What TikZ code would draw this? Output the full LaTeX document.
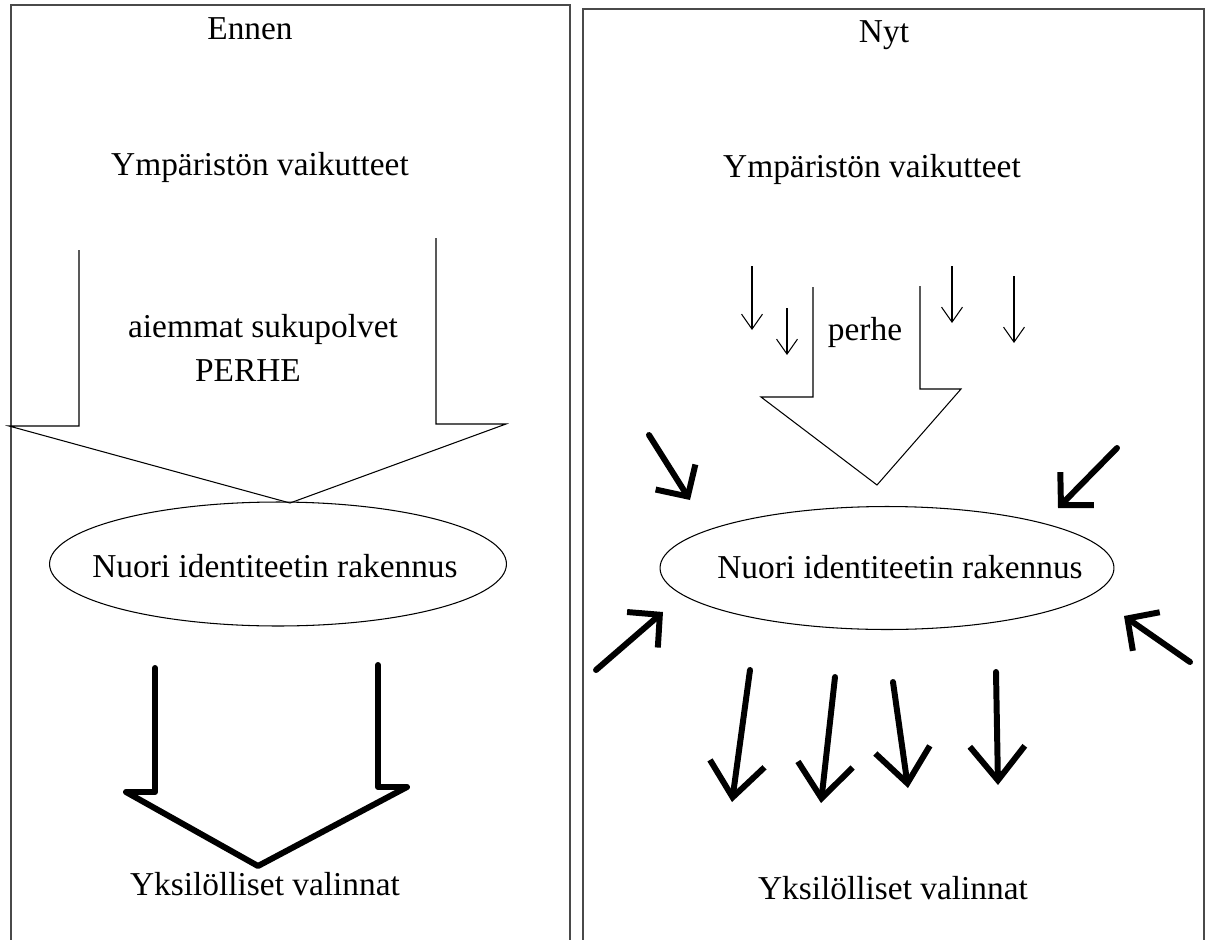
\documentclass[tikz,border=0pt]{standalone}
\usepackage{fontspec}
\setmainfont{Liberation Serif}
\usetikzlibrary{arrows.meta,shapes.geometric}
\definecolor{reunaHarmaa}{HTML}{4A4A4A}

\begin{document}
\begin{tikzpicture}[x=0.02cm,y=-0.02cm,
  teksti/.style={anchor=base,inner sep=0pt,font=\fontsize{19}{22}\selectfont},
  kupla/.style={draw,ellipse,line width=0.6pt,inner sep=0pt},
  ohut/.style={line width=0.6pt},
  paksu/.style={line width=3.4pt,line join=round,line cap=round},
  pieniNuoli/.style={-{Straight Barb[length=3mm,width=4.2mm]},line width=0.6pt},
  sisaanNuoli/.style={-{Straight Barb[length=4.6mm,width=9.4mm]},line width=3.4pt,line cap=round},
  alasNuoli/.style={-{Straight Barb[length=6.8mm,width=11mm]},line width=3.4pt,line cap=round},
  reuna/.style={draw=reunaHarmaa,line width=0.9pt}]
\useasboundingbox (0,0) rectangle (1214,940);
\clip (0,0) rectangle (1214,940);

% kaksi paneelia
\draw[reuna] (11,5) rectangle (570,990);
\draw[reuna] (583,9) rectangle (1204,990);

% --- Ennen ---
\node[teksti] (ennen) at (250,39) {Ennen};
\node[teksti] (ympA) at (260,175) {Ympäristön vaikutteet};
\node[teksti] (aiem) at (263,337) {aiemmat sukupolvet};
\node[teksti] (perheA) at (248,381) {PERHE};
\node[kupla,minimum width=9.14cm,minimum height=2.48cm] (nuoriA) at (278,564) {};
\node[teksti] (nuoriAt) at (275,577) {Nuori identiteetin rakennus};
\node[teksti] (yksA) at (265,895) {Yksilölliset valinnat};
\coordinate (karkiA) at (290,503);
\draw[ohut] (79,250) -- (79,426) -- (9,426) -- (karkiA) -- (506,424) -- (436,424) -- (436,238);
\draw[paksu] (155,668) -- (155,792) -- (126,792) -- (258,866) -- (407,787) -- (378,787) -- (378,665);

% --- Nyt ---
\node[teksti] (nyt) at (884,42) {Nyt};
\node[teksti] (ympB) at (872,177) {Ympäristön vaikutteet};
\node[teksti] (perheB) at (865,340) {perhe};
\foreach \x/\a/\b in {752/266/330, 787/308/355, 952/266/323, 1014/276/343}
  \draw[pieniNuoli] (\x,\a) -- (\x,\b);
\coordinate (karkiB) at (877,485);
\draw[ohut] (813,287) -- (813,397) -- (761,397) -- (karkiB) -- (961,389) -- (920,389) -- (920,286);
\node[kupla,minimum width=9.08cm,minimum height=2.46cm] (nuoriB) at (887,568) {};
\node[teksti] (nuoriBt) at (900,578) {Nuori identiteetin rakennus};
\node[teksti] (yksB) at (893,899) {Yksilölliset valinnat};

% vaikutteet joka suunnasta
\coordinate (vy) at (649,435);   \coordinate (vyk) at (690,500);
\coordinate (oy) at (1117,448);  \coordinate (oyk) at (1058,508);
\coordinate (va) at (596,670);   \coordinate (vak) at (663,612);
\coordinate (oa) at (1190,662);  \coordinate (oak) at (1124,616);
\draw[sisaanNuoli] (vy) -- (vyk);
\draw[sisaanNuoli] (oy) -- (oyk);
\draw[sisaanNuoli] (va) -- (vak);
\draw[sisaanNuoli] (oa) -- (oak);

% valinnat
\foreach \xa/\ya/\xb/\yb in {750/670/732/802, 835/677/821/803, 893/682/908/788, 996/672/998/785}
  \draw[alasNuoli] (\xa,\ya) -- (\xb,\yb);
\end{tikzpicture}
\end{document}
